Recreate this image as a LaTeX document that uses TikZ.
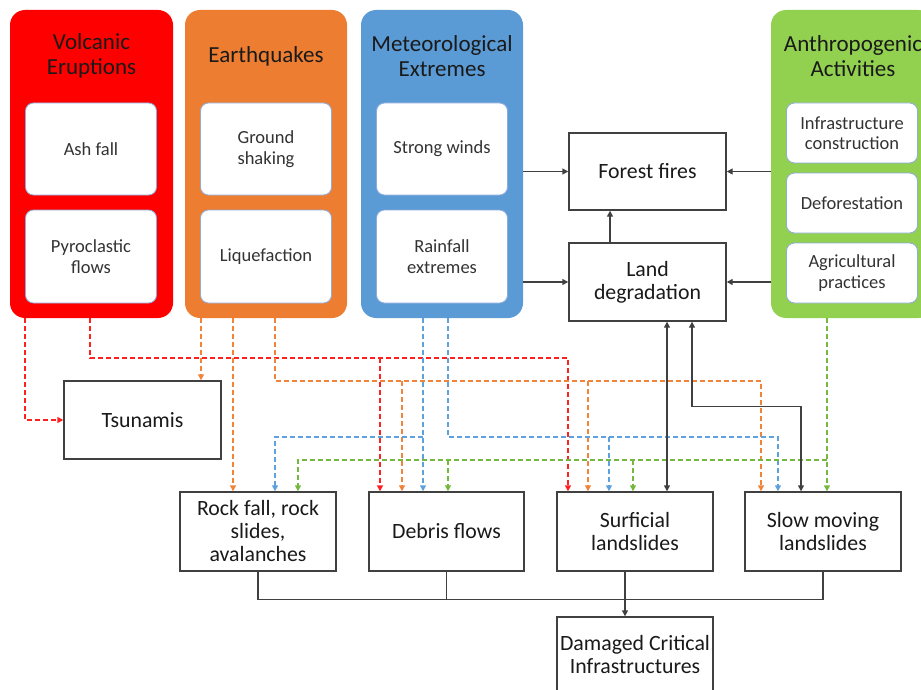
\documentclass[tikz,border=0pt]{standalone}
\usepackage{fontspec}
\setmainfont{Carlito}
\usetikzlibrary{arrows.meta}

\definecolor{volcred}{HTML}{FF0000}
\definecolor{quakeorange}{HTML}{ED7D31}
\definecolor{meteoblue}{HTML}{5B9BD5}
\definecolor{anthrogreen}{HTML}{92D050}
\definecolor{redline}{HTML}{FF2020}
\definecolor{orgline}{HTML}{F0843A}
\definecolor{bluline}{HTML}{5EA1DE}
\definecolor{grnline}{HTML}{74B83E}
\definecolor{innerline}{HTML}{8FAADC}
\definecolor{boxline}{HTML}{404040}
\definecolor{txt}{HTML}{1A1A1A}

\begin{document}
\begin{tikzpicture}[x=1pt, y=-1pt,
    hazard/.style={rounded corners=15pt, minimum width=163pt, minimum height=308pt, inner sep=0pt},
    hazardtitle/.style={font=\fontsize{23}{25}\selectfont, align=center, text=txt},
    subbox/.style={draw=innerline, line width=0.8pt, fill=white, rounded corners=8pt, minimum width=131pt, align=center, font=\fontsize{18.5}{20.5}\selectfont, text=black!80, inner sep=0pt},
    effectbox/.style={draw=boxline, line width=1.4pt, fill=white, minimum width=156pt, minimum height=78pt, align=center, font=\fontsize{21.8}{23}\selectfont, text=txt, inner sep=0pt},
    link/.style={draw=boxline, line width=1.4pt, -{Triangle[length=6pt,width=6pt]}},
    linkboth/.style={link, {Triangle[length=6pt,width=6pt]}-{Triangle[length=6pt,width=6pt]}},
    dashlink/.style={line width=1.6pt, dash pattern=on 5pt off 3pt, -{Triangle[length=6pt,width=6pt]}}
]
    \useasboundingbox (0,0) rectangle (921,690);
    \clip (0,0) rectangle (921,690);

    % Volcanic eruptions
    \node[hazard, fill=volcred] (volc) at (91.5,164) {};
    \node[hazardtitle] (volct) at (91.5,56) {Volcanic\\Eruptions};
    \node[subbox, minimum height=92pt] (ash) at (91,149) {Ash fall};
    \node[subbox, minimum height=93pt] (pyro) at (91,256.5) {Pyroclastic\\flows};

    % Earthquakes
    \node[hazard, fill=quakeorange, minimum width=162pt] (quake) at (266,164) {};
    \node[hazardtitle] (quaket) at (266,56) {Earthquakes};
    \node[subbox, minimum height=92pt] (ground) at (266,149) {Ground\\shaking};
    \node[subbox, minimum height=93pt] (liquef) at (266,256.5) {Liquefaction};

    % Meteorological extremes
    \node[hazard, fill=meteoblue, minimum width=162pt] (meteo) at (442,164) {};
    \node[hazardtitle] (meteot) at (442,56) {Meteorological\\Extremes};
    \node[subbox, minimum height=92pt] (winds) at (442,149) {Strong winds};
    \node[subbox, minimum height=93pt] (rain) at (442,256.5) {Rainfall\\extremes};

    % Anthropogenic activities
    \node[hazard, fill=anthrogreen, minimum width=162pt] (anthro) at (852,164) {};
    \node[hazardtitle] (anthrot) at (853,56) {Anthropogenic\\Activities};
    \node[subbox, minimum height=60pt] (infra) at (852,133) {Infrastructure\\construction};
    \node[subbox, minimum height=60pt] (defor) at (852,203) {Deforestation};
    \node[subbox, minimum height=60pt] (agri) at (852,273) {Agricultural\\practices};

    % Forest fires and land degradation
    \node[effectbox, minimum width=157pt, minimum height=77pt] (forest) at (647.5,171.5) {Forest fires};
    \node[effectbox, minimum width=157pt] (landdeg) at (647.5,282) {Land\\degradation};
    \draw[link] (meteo.east |- forest.west) -- (forest.west);
    \draw[link] (meteo.east |- landdeg.west) -- (landdeg.west);
    \draw[link] (anthro.west |- forest.east) -- (forest.east);
    \draw[link] (anthro.west |- landdeg.east) -- (landdeg.east);
    \draw[link] ([xshift=-37.5]landdeg.north) -- ([xshift=-37.5]forest.south);

    % Tsunamis and landslide types
    \node[effectbox, minimum width=157pt] (tsun) at (142.5,420) {Tsunamis};
    \node[effectbox, minimum height=79pt] (rock) at (258,531.5) {Rock fall, rock\\slides,\\avalanches};
    \node[effectbox, minimum width=155pt, minimum height=79pt] (debris) at (446.5,531.5) {Debris flows};
    \node[effectbox, minimum height=79pt] (surf) at (635,531.5) {Surficial\\landslides};
    \node[effectbox, minimum height=79pt] (slow) at (823,531.5) {Slow moving\\landslides};
    \node[effectbox, minimum height=76pt] (damaged) at (635,655) {Damaged Critical\\Infrastructures};

    % Volcanic links
    \draw[dashlink, redline] ([xshift=-66.5]volc.south) |- (tsun.west);
    \draw[dashlink, redline] ([xshift=-1.5]volc.south) -- ++(0,40) coordinate (redbus) -| ([xshift=-67]surf.north);
    \draw[dashlink, redline] ([xshift=-66.5]debris.north |- redbus) -- ([xshift=-66.5]debris.north);

    % Earthquake links
    \draw[dashlink, orgline] ([xshift=-65]quake.south) -- ([xshift=-65]quake.south |- tsun.north);
    \draw[dashlink, orgline] ([xshift=-33]quake.south) -- ([xshift=-33]quake.south |- rock.north);
    \draw[dashlink, orgline] ([xshift=9]quake.south) -- ++(0,63) coordinate (orgbus) -| ([xshift=-62]slow.north);
    \foreach \dx/\tgt in {-44.5/debris, -47/surf}
        \draw[dashlink, orgline] ([xshift=\dx]\tgt.north |- orgbus) -- ([xshift=\dx]\tgt.north);

    % Meteorological links
    \draw[dashlink, bluline] ([xshift=-19]meteo.south) -- ([xshift=-19]meteo.south |- debris.north);
    \draw[dashlink, bluline] ([xshift=-19]meteo.south) ++(0,119) -| ([xshift=17]rock.north);
    \draw[dashlink, bluline] ([xshift=6]meteo.south) -- ++(0,119) coordinate (blubus) -| ([xshift=-45]slow.north);
    \draw[dashlink, bluline] ([xshift=-26]surf.north |- blubus) -- ([xshift=-26]surf.north);

    % Anthropogenic links
    \draw[dashlink, grnline] ([xshift=-25]anthro.south) -- ([xshift=-25]anthro.south |- slow.north);
    \draw[dashlink, grnline] ([xshift=-25]anthro.south) ++(0,142) coordinate (grnbus) -| ([xshift=40]rock.north);
    \foreach \dx/\tgt in {1.5/debris, -2/surf}
        \draw[dashlink, grnline] ([xshift=\dx]\tgt.north |- grnbus) -- ([xshift=\dx]\tgt.north);

    % Land degradation to landslides
    \draw[linkboth] ([xshift=19.5]landdeg.south) -- ([xshift=19.5]landdeg.south |- surf.north);
    \draw[linkboth] ([xshift=44.5]landdeg.south) -- ++(0,85) -| ([xshift=-22]slow.north);

    % Damage collector
    \draw[boxline, line width=1.4pt] (rock.south) -- ++(0,28) coordinate (bus) -| (slow.south);
    \draw[boxline, line width=1.4pt] (debris.south) -- (debris.south |- bus);
    \draw[link] ([xshift=-10]surf.south) -- ([xshift=-10]surf.south |- damaged.north);
\end{tikzpicture}
\end{document}
